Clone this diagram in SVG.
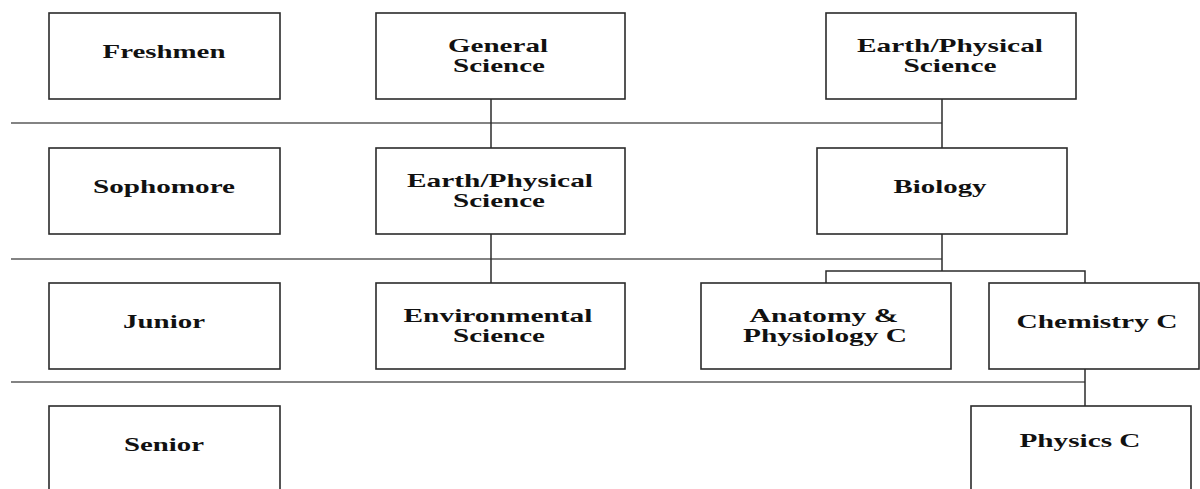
<svg xmlns="http://www.w3.org/2000/svg" width="1200" height="489" viewBox="0 0 1200 489">
<style>
rect.box{fill:#fff;stroke:#2b2b2b;stroke-width:1.6}
.sep{stroke:#5a5a5a;stroke-width:1.5;fill:none}
.con{stroke:#2b2b2b;stroke-width:1.5;fill:none}
text{font-family:"Liberation Serif","Times New Roman",serif;font-weight:bold;font-size:19px;fill:#111;text-anchor:middle}
</style>
<rect width="1200" height="489" fill="#fff"/>
<g id="connectors">
<line class="sep" x1="11" y1="123" x2="942" y2="123"/>
<line class="sep" x1="11" y1="259" x2="942" y2="259"/>
<line class="sep" x1="11" y1="382" x2="1085" y2="382"/>
<line class="con" x1="491" y1="99" x2="491" y2="148"/>
<line class="con" x1="942" y1="99" x2="942" y2="148"/>
<line class="con" x1="491" y1="234" x2="491" y2="283"/>
<line class="con" x1="942" y1="234" x2="942" y2="271"/>
<polyline class="con" points="826,283 826,271 1085,271 1085,283"/>
<line class="con" x1="1085" y1="369" x2="1085" y2="406"/>
</g>
<g id="freshmen"><rect class="box" x="49" y="13" width="231" height="86"/><text x="164" y="58" textLength="123" lengthAdjust="spacingAndGlyphs">Freshmen</text></g>
<g id="sophomore"><rect class="box" x="49" y="148" width="231" height="86"/><text x="164" y="193" textLength="142" lengthAdjust="spacingAndGlyphs">Sophomore</text></g>
<g id="junior"><rect class="box" x="49" y="283" width="231" height="86"/><text x="164" y="328" textLength="82" lengthAdjust="spacingAndGlyphs">Junior</text></g>
<g id="senior"><rect class="box" x="49" y="406" width="231" height="100"/><text x="164" y="451" textLength="80" lengthAdjust="spacingAndGlyphs">Senior</text></g>
<g id="general-science"><rect class="box" x="376" y="13" width="249" height="86"/><text x="498" y="52" textLength="100" lengthAdjust="spacingAndGlyphs">General</text><text x="499" y="72" textLength="92" lengthAdjust="spacingAndGlyphs">Science</text></g>
<g id="earth-physical-1"><rect class="box" x="826" y="13" width="250" height="86"/><text x="950" y="52" textLength="186" lengthAdjust="spacingAndGlyphs">Earth/Physical</text><text x="950" y="72" textLength="93" lengthAdjust="spacingAndGlyphs">Science</text></g>
<g id="earth-physical-2"><rect class="box" x="376" y="148" width="249" height="86"/><text x="500" y="187" textLength="186" lengthAdjust="spacingAndGlyphs">Earth/Physical</text><text x="499" y="207" textLength="92" lengthAdjust="spacingAndGlyphs">Science</text></g>
<g id="biology"><rect class="box" x="817" y="148" width="250" height="86"/><text x="940" y="193" textLength="93" lengthAdjust="spacingAndGlyphs">Biology</text></g>
<g id="environmental"><rect class="box" x="376" y="283" width="249" height="86"/><text x="498" y="322" textLength="189" lengthAdjust="spacingAndGlyphs">Environmental</text><text x="499" y="342" textLength="92" lengthAdjust="spacingAndGlyphs">Science</text></g>
<g id="anatomy"><rect class="box" x="701" y="283" width="250" height="86"/><text x="824" y="322" textLength="149" lengthAdjust="spacingAndGlyphs">Anatomy &amp;</text><text x="825" y="342" textLength="164" lengthAdjust="spacingAndGlyphs">Physiology C</text></g>
<g id="chemistry"><rect class="box" x="989" y="283" width="210" height="86"/><text x="1097" y="328" textLength="161" lengthAdjust="spacingAndGlyphs">Chemistry C</text></g>
<g id="physics"><rect class="box" x="971" y="406" width="220" height="100"/><text x="1080" y="447" textLength="121" lengthAdjust="spacingAndGlyphs">Physics C</text></g>
</svg>
